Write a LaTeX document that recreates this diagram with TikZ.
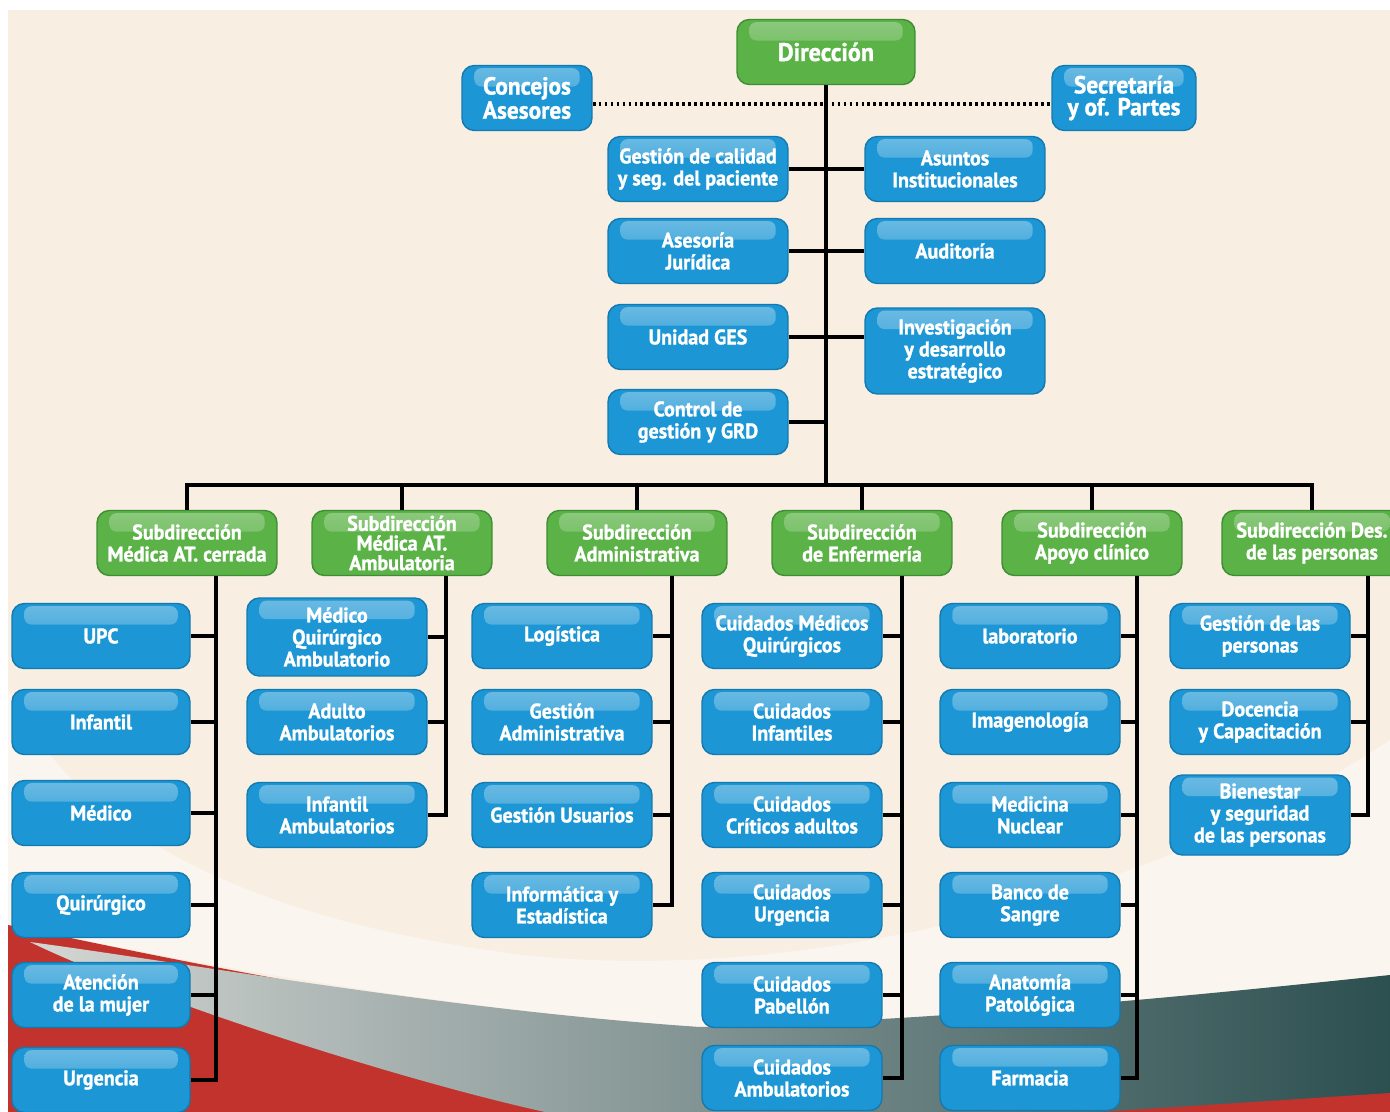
\documentclass[tikz,border=0pt]{standalone}
\usepackage{fontspec}
\setmainfont{PT Sans}[FakeStretch=0.95, BoldFeatures={FakeBold=1.3}]

\definecolor{bgbeige}{HTML}{F8EEE2}
\definecolor{boxblue}{HTML}{1C96D4}
\definecolor{boxedge}{HTML}{1479AE}
\definecolor{boxgreen}{HTML}{5BB246}
\definecolor{greenedge}{HTML}{3F8D34}
\definecolor{bgred}{HTML}{C3332D}
\definecolor{bggray}{HTML}{8E9C9B}
\definecolor{bglight}{HTML}{D4D6D3}
\definecolor{bgteal}{HTML}{2C4F50}

\newcommand{\orgfont}{\bfseries\fontsize{12}{12.5}\selectfont}
\newcommand{\bigorgfont}{\bfseries\fontsize{14}{12.5}\selectfont}

\begin{document}
\begin{tikzpicture}[x=0.02cm, y=-0.02cm,
  box/.style={rounded corners=7pt, text=white, align=center, font=\orgfont,
    inner sep=1pt, minimum height=1.3cm, line width=0.8pt},
  bluebox/.style={box, fill=boxblue, draw=boxedge, minimum width=3.6cm,
    path picture={\shade[top color=white!35!boxblue, bottom color=boxblue, rounded corners=4pt]
      ([xshift=7pt,yshift=-1.5pt]path picture bounding box.north west) rectangle
      ([xshift=-7pt,yshift=-12pt]path picture bounding box.north east);}},
  greenbox/.style={box, fill=boxgreen, draw=greenedge, minimum width=3.6cm,
    path picture={\shade[top color=white!30!boxgreen, bottom color=boxgreen, rounded corners=4pt]
      ([xshift=7pt,yshift=-1.5pt]path picture bounding box.north west) rectangle
      ([xshift=-7pt,yshift=-12pt]path picture bounding box.north east);}},
  link/.style={line width=1.9pt, black},
  dotlink/.style={line width=2.2pt, black, dash pattern=on 1.6pt off 1.8pt}]

\clip (0,0) rectangle (1390,1112);

% background
\fill[white] (0,0) rectangle (1390,1112);
\fill[bgbeige] (8,10) rectangle (1390,1112);
\fill[white, opacity=0.45] (8,690) .. controls (80,835) and (250,920) .. (523,955)
  .. controls (800,985) and (1150,900) .. (1390,740) -- (1390,975)
  .. controls (1200,995) and (950,1020) .. (700,1027)
  .. controls (450,1010) and (200,965) .. (8,925) -- cycle;
\fill[bgred] (8,925) .. controls (200,965) .. (560,1030) -- (560,1112) -- (8,1112) -- cycle;
\shade[left color=bglight, middle color=bggray, right color=bgteal]
  (30,942) .. controls (200,965) and (450,1010) .. (700,1027)
  .. controls (950,1020) and (1200,995) .. (1390,975) -- (1390,1112) -- (545,1112)
  .. controls (400,1080) and (150,1000) .. (30,942) -- cycle;
\fill[bgred] (1100,1112) -- (1390,1093) -- (1390,1112) -- cycle;

% direccion
\node[greenbox, minimum width=3.56cm, font=\bfseries\fontsize{14.5}{14}\selectfont] (dir) at (826,52) {Dirección};
\node[bluebox, minimum width=2.6cm, font=\bigorgfont] (conc) at (527,98) {Concejos\\Asesores};
\node[bluebox, minimum width=2.88cm, font=\bigorgfont] (secr) at (1124,98) {Secretaría\\y of. Partes};

\node[bluebox] (gest) at (698,169) {Gestión de calidad\\y seg. del paciente};
\node[bluebox] (asun) at (955,169) {Asuntos\\Institucionales};
\node[bluebox] (ases) at (698,251) {Asesoría\\Jurídica};
\node[bluebox] (audi) at (955,251) {Auditoría};
\node[bluebox] (unid) at (698,337) {Unidad GES};
\node[bluebox, minimum height=1.72cm] (inve) at (955,351) {Investigación\\y desarrollo\\estratégico};
\node[bluebox] (ctrl) at (698,422) {Control de\\gestión y GRD};

\coordinate (bar) at (826,485);
\draw[link] (dir.south) -- (bar);
\draw[dotlink] (conc.east |- 0,104) -- (secr.west |- 0,104);
\draw[link] (gest.east) -- (asun.west);
\draw[link] (ases.east) -- (audi.west);
\draw[link] (unid.east) -- (inve.west |- unid.east);
\draw[link] (ctrl.east) -- (ctrl.east -| bar);

% subdirecciones
\node[greenbox] (s1) at (187,543) {Subdirección\\Médica AT. cerrada};
\node[greenbox, font=\bfseries\fontsize{12}{11.2}\selectfont] (s2) at (402,543) {Subdirección\\Médica AT.\\Ambulatoria};
\node[greenbox] (s3) at (637,543) {Subdirección\\Administrativa};
\node[greenbox] (s4) at (862,543) {Subdirección\\de Enfermería};
\node[greenbox] (s5) at (1092,543) {Subdirección\\Apoyo clínico};
\node[greenbox] (s6) at (1312,543) {Subdirección Des.\\de las personas};

\draw[link] (s1.north) |- (bar) -| (s6.north);
\draw[link] (s2.north) -- (s2.north |- bar);
\draw[link] (s3.north) -- (s3.north |- bar);
\draw[link] (s4.north) -- (s4.north |- bar);
\draw[link] (s5.north) -- (s5.north |- bar);

% columna 1
\node[bluebox, minimum width=3.56cm] (c1a) at (101,636) {UPC};
\node[bluebox, minimum width=3.56cm] (c1b) at (101,722) {Infantil};
\node[bluebox, minimum width=3.56cm] (c1c) at (101,813) {Médico};
\node[bluebox, minimum width=3.56cm] (c1d) at (101,905) {Quirúrgico};
\node[bluebox, minimum width=3.56cm] (c1e) at (101,995) {Atención\\de la mujer};
\node[bluebox, minimum width=3.56cm] (c1f) at (101,1080) {Urgencia};
\coordinate (k1) at (216,576);
\draw[link] (k1) |- (c1f.east);
\draw[link] (c1a.east) -- (c1a.east -| k1);
\draw[link] (c1b.east) -- (c1b.east -| k1);
\draw[link] (c1c.east) -- (c1c.east -| k1);
\draw[link] (c1d.east) -- (c1d.east -| k1);
\draw[link] (c1e.east) -- (c1e.east -| k1);

% columna 2
\node[bluebox, minimum height=1.56cm] (c2a) at (337,637) {Médico\\Quirúrgico\\Ambulatorio};
\node[bluebox] (c2b) at (337,722) {Adulto\\Ambulatorios};
\node[bluebox] (c2c) at (337,815) {Infantil\\Ambulatorios};
\coordinate (k2) at (446,576);
\draw[link] (k2) |- (c2c.east);
\draw[link] (c2a.east) -- (c2a.east -| k2);
\draw[link] (c2b.east) -- (c2b.east -| k2);

% columna 3
\node[bluebox] (c3a) at (562,636) {Logística};
\node[bluebox] (c3b) at (562,722) {Gestión\\Administrativa};
\node[bluebox] (c3c) at (562,815) {Gestión Usuarios};
\node[bluebox] (c3d) at (562,905) {Informática y\\Estadística};
\coordinate (k3) at (672,576);
\draw[link] (k3) |- (c3d.east);
\draw[link] (c3a.east) -- (c3a.east -| k3);
\draw[link] (c3b.east) -- (c3b.east -| k3);
\draw[link] (c3c.east) -- (c3c.east -| k3);

% columna 4
\node[bluebox] (c4a) at (792,636) {Cuidados Médicos\\Quirúrgicos};
\node[bluebox] (c4b) at (792,722) {Cuidados\\Infantiles};
\node[bluebox] (c4c) at (792,815) {Cuidados\\Críticos adultos};
\node[bluebox] (c4d) at (792,905) {Cuidados\\Urgencia};
\node[bluebox] (c4e) at (792,995) {Cuidados\\Pabellón};
\node[bluebox] (c4f) at (792,1078) {Cuidados\\Ambulatorios};
\coordinate (k4) at (902,576);
\draw[link] (k4) |- (c4f.east);
\draw[link] (c4a.east) -- (c4a.east -| k4);
\draw[link] (c4b.east) -- (c4b.east -| k4);
\draw[link] (c4c.east) -- (c4c.east -| k4);
\draw[link] (c4d.east) -- (c4d.east -| k4);
\draw[link] (c4e.east) -- (c4e.east -| k4);

% columna 5
\node[bluebox] (c5a) at (1030,636) {laboratorio};
\node[bluebox] (c5b) at (1030,722) {Imagenología};
\node[bluebox] (c5c) at (1030,815) {Medicina\\Nuclear};
\node[bluebox] (c5d) at (1030,905) {Banco de\\Sangre};
\node[bluebox] (c5e) at (1030,995) {Anatomía\\Patológica};
\node[bluebox] (c5f) at (1030,1078) {Farmacia};
\coordinate (k5) at (1137,576);
\draw[link] (k5) |- (c5f.east);
\draw[link] (c5a.east) -- (c5a.east -| k5);
\draw[link] (c5b.east) -- (c5b.east -| k5);
\draw[link] (c5c.east) -- (c5c.east -| k5);
\draw[link] (c5d.east) -- (c5d.east -| k5);
\draw[link] (c5e.east) -- (c5e.east -| k5);

% columna 6
\node[bluebox] (c6a) at (1260,636) {Gestión de las\\personas};
\node[bluebox] (c6b) at (1260,722) {Docencia\\y Capacitación};
\node[bluebox, minimum height=1.6cm] (c6c) at (1260,815) {Bienestar\\y seguridad\\de las personas};
\coordinate (k6) at (1368,576);
\draw[link] (k6) |- (c6c.east);
\draw[link] (c6a.east) -- (c6a.east -| k6);
\draw[link] (c6b.east) -- (c6b.east -| k6);

\end{tikzpicture}
\end{document}
